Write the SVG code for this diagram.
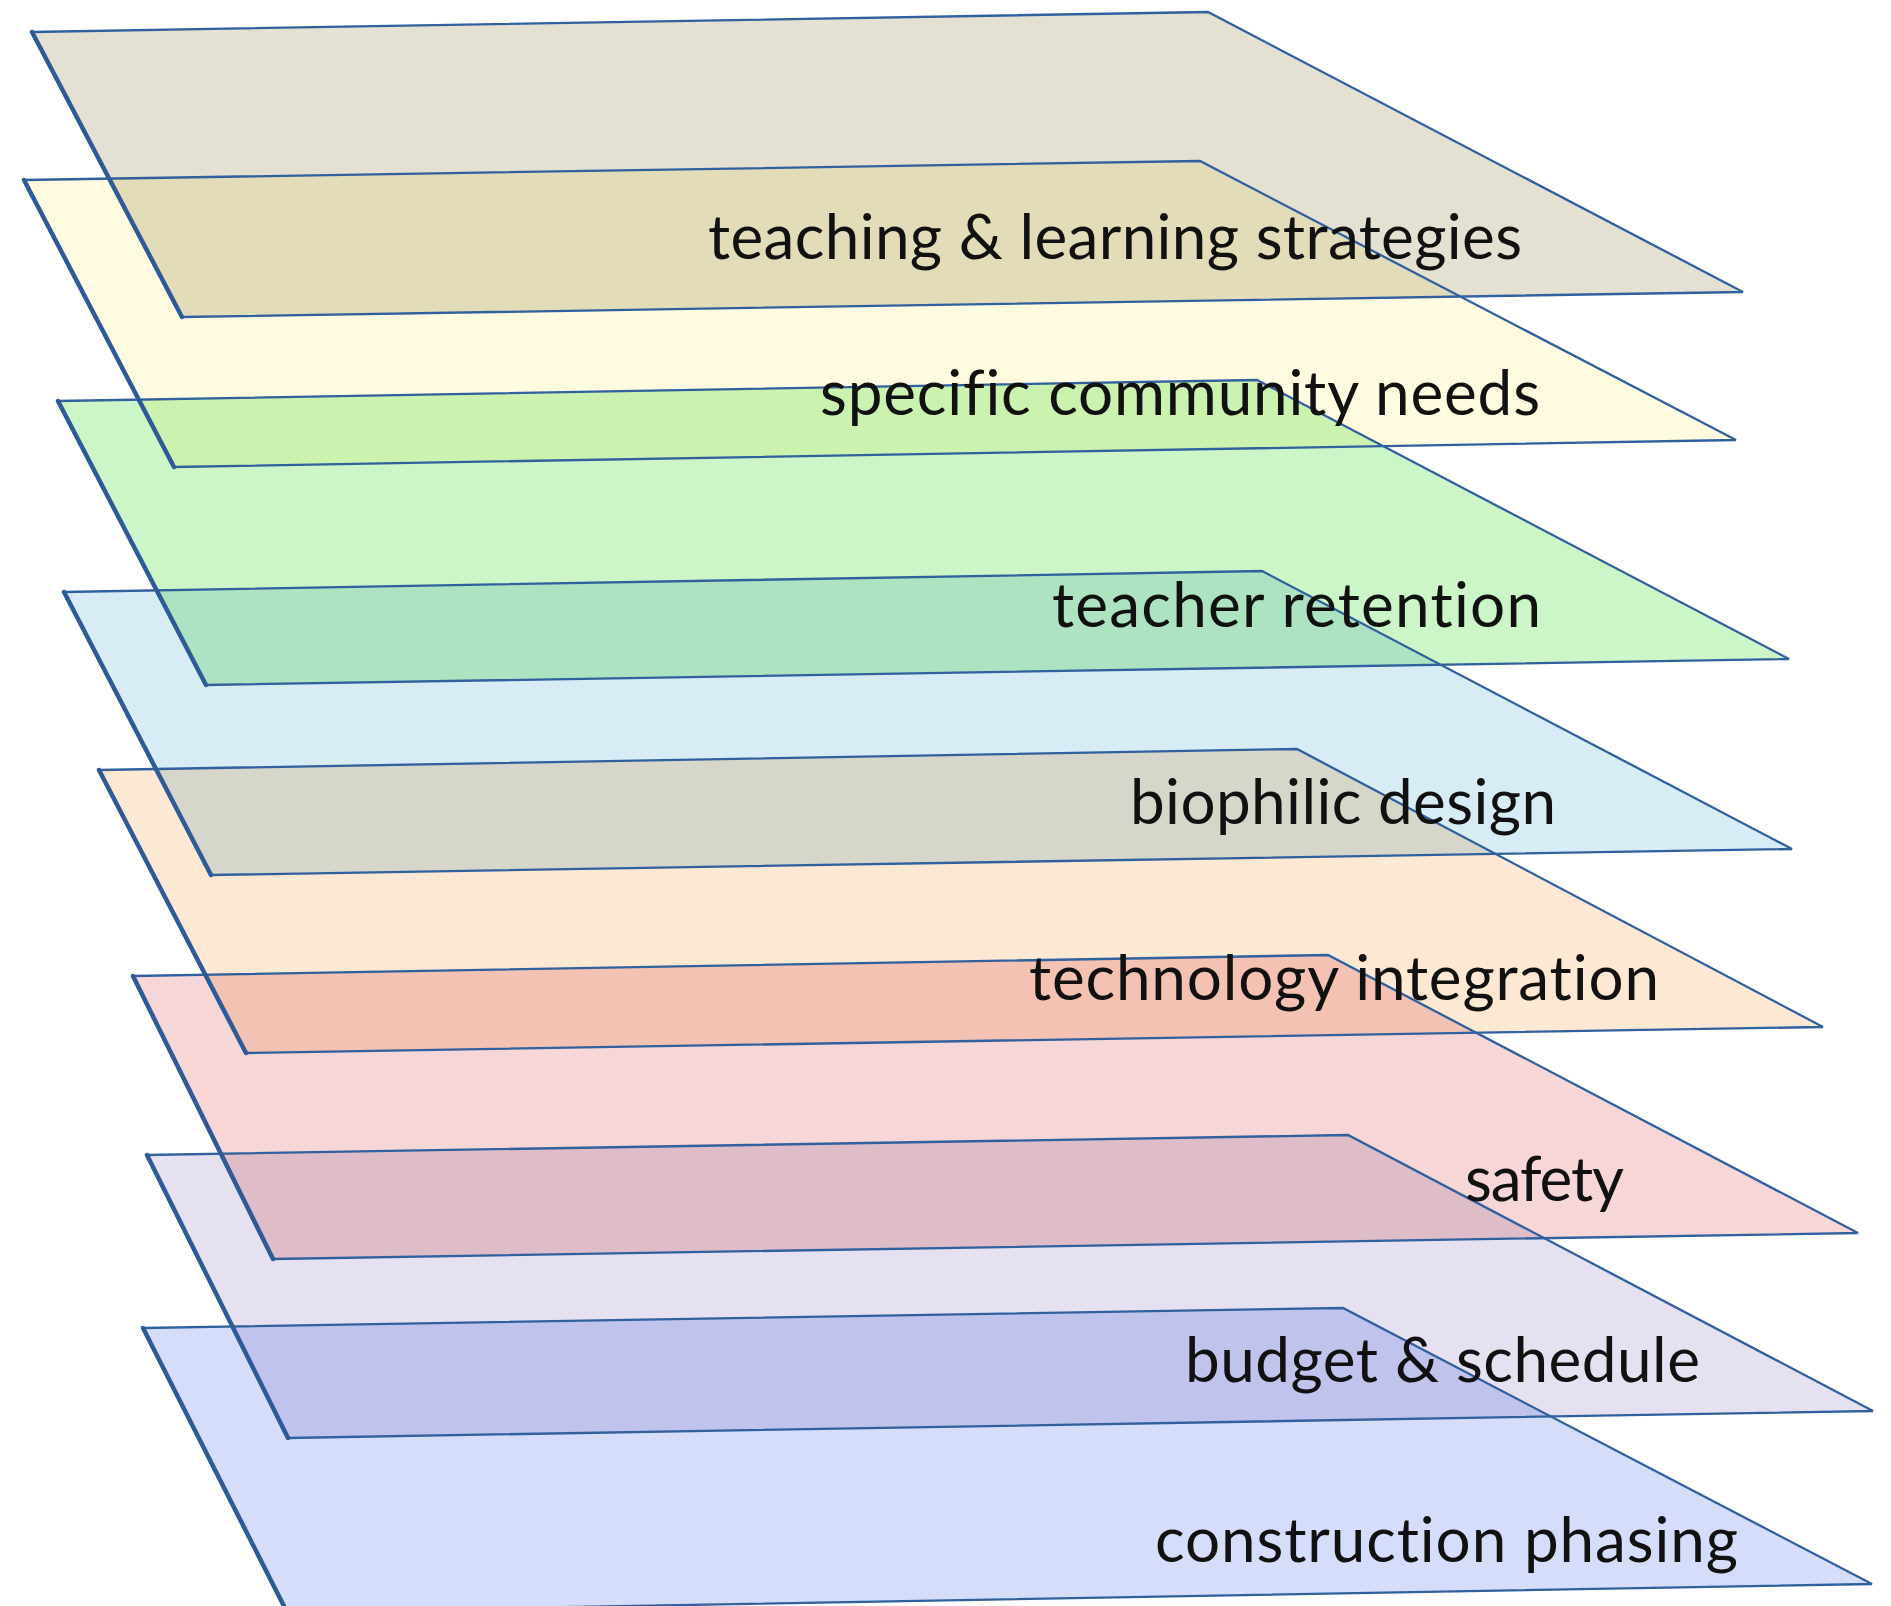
<svg xmlns="http://www.w3.org/2000/svg" width="1891" height="1606" viewBox="0 0 1891 1606">
<style>
.layer polygon { mix-blend-mode: multiply; }
.layer .edge { fill: none; stroke: #31609e; stroke-width: 2.3; stroke-linejoin: miter; }
.layer line { stroke: #2e5b98; stroke-width: 4.5; stroke-linecap: round; }
.layer text { font-family: "Lato", "Liberation Sans", sans-serif; font-size: 62px; fill: #111111; font-variant-ligatures: none; font-feature-settings: "liga" 0, "dlig" 0; }
</style>
<defs>
<polygon id="p8" points="143,1328 1343,1308 1872,1584 287,1612"/>
<polygon id="p7" points="147,1155 1348,1135 1873,1411 288,1438"/>
<polygon id="p6" points="133,976 1328,955 1858,1233 273,1259"/>
<polygon id="p5" points="99,770 1297,749 1823,1027 246,1053"/>
<polygon id="p4" points="64,592 1262,571 1792,849 211,875"/>
<polygon id="p3" points="58,401 1257,380 1789,659 206,685"/>
<polygon id="p2" points="24,180 1200,161 1736,440 174,467"/>
<polygon id="p1" points="32,32 1208,12 1743,292 182,317"/>
</defs>
<rect x="0" y="0" width="1891" height="1606" fill="#ffffff"/>
<g id="fills">
<use href="#p8" class="layer" fill="#d5ddfa" style="mix-blend-mode:multiply"/>
<use href="#p7" fill="#e6e1f0" style="mix-blend-mode:multiply"/>
<use href="#p6" fill="#f6d6d6" style="mix-blend-mode:multiply"/>
<use href="#p5" fill="#fde8d4" style="mix-blend-mode:multiply"/>
<use href="#p4" fill="#d8ecf5" style="mix-blend-mode:multiply"/>
<use href="#p3" fill="#cdf6c8" style="mix-blend-mode:multiply"/>
<use href="#p2" fill="#fefbe0" style="mix-blend-mode:multiply"/>
<use href="#p1" fill="#e4e0d2" style="mix-blend-mode:multiply"/>
</g>
<g id="layers">
<g id="construction-phasing" class="layer">
<use href="#p8" class="edge"/>
<line x1="143" y1="1328" x2="287" y2="1612"/>
<text x="1155" y="1562" textLength="583">construction phasing</text>
</g>
<g id="budget-schedule" class="layer">
<use href="#p7" class="edge"/>
<line x1="147" y1="1155" x2="288" y2="1438"/>
<text x="1185" y="1382" textLength="515">budget &amp; schedule</text>
</g>
<g id="safety" class="layer">
<use href="#p6" class="edge"/>
<line x1="133" y1="976" x2="273" y2="1259"/>
<text x="1465" y="1201" textLength="159">safety</text>
</g>
<g id="technology-integration" class="layer">
<use href="#p5" class="edge"/>
<line x1="99" y1="770" x2="246" y2="1053"/>
<text x="1029" y="1000" textLength="630">technology integration</text>
</g>
<g id="biophilic-design" class="layer">
<use href="#p4" class="edge"/>
<line x1="64" y1="592" x2="211" y2="875"/>
<text x="1130" y="824" textLength="426">biophilic design</text>
</g>
<g id="teacher-retention" class="layer">
<use href="#p3" class="edge"/>
<line x1="58" y1="401" x2="206" y2="685"/>
<text x="1052" y="627" textLength="489">teacher retention</text>
</g>
<g id="specific-community-needs" class="layer">
<use href="#p2" class="edge"/>
<line x1="24" y1="180" x2="174" y2="467"/>
<text x="820" y="415" textLength="720">specific community needs</text>
</g>
<g id="teaching-learning-strategies" class="layer">
<use href="#p1" class="edge"/>
<line x1="32" y1="32" x2="182" y2="317"/>
<text x="708" y="259" textLength="814">teaching &amp; learning strategies</text>
</g>
</g>
<g id="connectors"/>
</svg>
